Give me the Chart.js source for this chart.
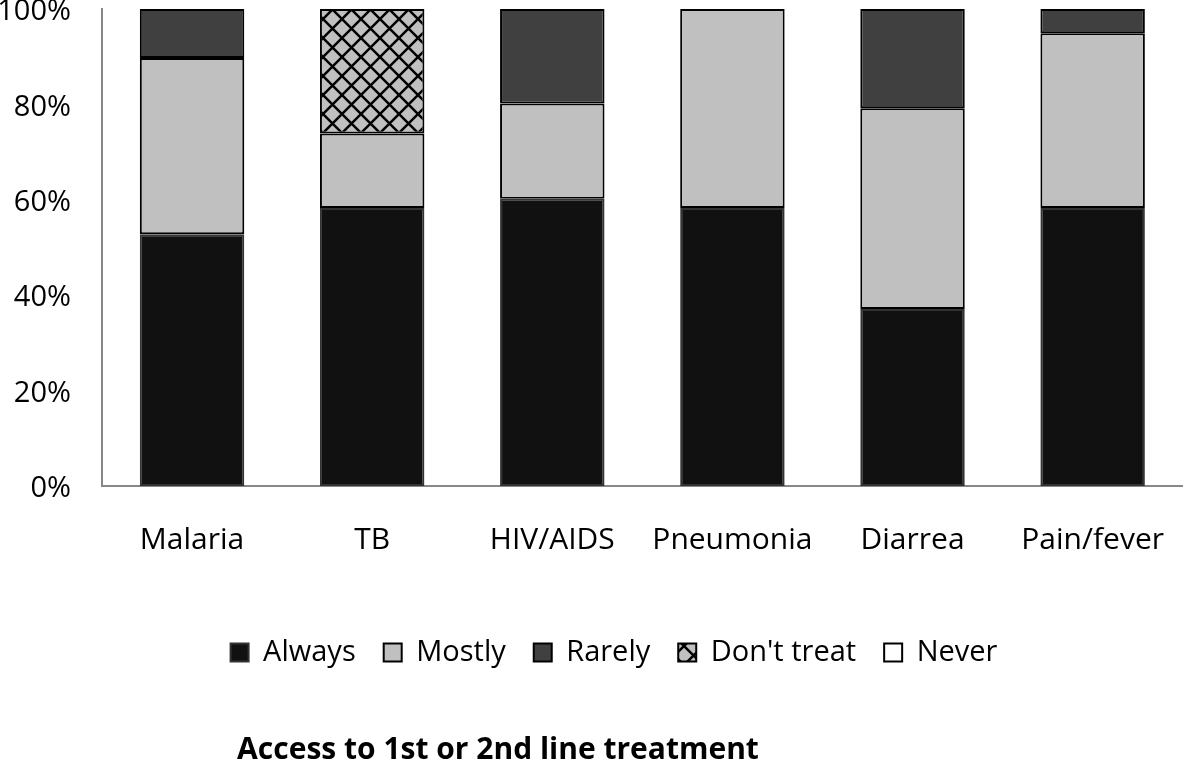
<!DOCTYPE html>
<html>
<head>
<meta charset="utf-8">
<script src="https://cdn.jsdelivr.net/npm/chart.js@4/dist/chart.umd.min.js"></script>
<style>
  html, body { margin: 0; padding: 0; background: #fff; }
  #wrap { width: 1200px; height: 760px; position: relative; }
</style>
</head>
<body>
<div id="wrap"><canvas id="myChart"></canvas></div>
<script>
const categories = ["Malaria", "TB", "HIV/AIDS", "Pneumonia", "Diarrea", "Pain/fever"];
const always = [52.8, 58.3, 60.2, 58.3, 37.1, 58.3];
const mostly = [36.9, 15.6, 20.0, 41.7, 42.1, 36.6];
const rarely = [10.3, 0, 19.8, 0, 20.8, 5.1];
const dontTreat = [0, 26.1, 0, 0, 0, 0];
const never = [0, 0, 0, 0, 0, 0];
const yTicks = [0, 20, 40, 60, 80, 100];
const chartTitle = "Access to 1st or 2nd line treatment";

const FONT = "'Open Sans', sans-serif";

// diamond lattice for "Don't treat"
const makePattern = () => {
  const s = 19;
  const c = document.createElement("canvas");
  c.width = s;
  c.height = s;
  const p = c.getContext("2d");
  p.fillStyle = "#c0c0c0";
  p.fillRect(0, 0, s, s);
  p.strokeStyle = "#000";
  p.lineWidth = 2.5;
  p.beginPath();
  p.moveTo(0, 0); p.lineTo(s, s);
  p.moveTo(s, 0); p.lineTo(0, s);
  p.stroke();
  return document.getElementById("myChart").getContext("2d").createPattern(c, "repeat");
};

const bottomTitle = {
  id: "bottomTitle",
  afterLayout(chart) {
    // legend sits a little right of centre in the original
    chart.legend.left += 14;
    chart.legend.right += 14;
  },
  afterDraw(chart) {
    const ctx = chart.ctx;
    ctx.save();
    ctx.font = "bold 30px " + FONT;
    ctx.fillStyle = "#000";
    ctx.textAlign = "center";
    ctx.textBaseline = "middle";
    ctx.fillText(chartTitle, 498, 750);
    ctx.restore();
  },
};

const ds = (label, data, color, border) => ({
  label: label,
  data: data,
  backgroundColor: color,
  borderColor: border,
  borderWidth: 2,
  borderSkipped: false,
  categoryPercentage: 1,
  barPercentage: 0.58,
});

new Chart(document.getElementById("myChart"), {
  type: "bar",
  data: {
    labels: categories,
    datasets: [
      ds("Always", always, "#111111", "#333333"),
      ds("Mostly", mostly, "#c0c0c0", "#000"),
      ds("Rarely", rarely, "#404040", "#000"),
      ds("Don't treat", dontTreat, makePattern(), "#000"),
      ds("Never", never, "#ffffff", "#000"),
    ],
  },
  options: {
    responsive: true,
    maintainAspectRatio: false,
    animation: false,
    layout: { padding: { top: 0, right: 0, left: 0, bottom: 83 } },
    plugins: {
      legend: {
        position: "bottom",
        labels: {
          color: "#000",
          font: { family: FONT, size: 29 },
          boxWidth: 18,
          boxHeight: 18,
          padding: 28,
        },
      },
      tooltip: { enabled: false },
    },
    scales: {
      x: {
        stacked: true,
        grid: { display: false, drawTicks: false },
        border: { color: "#888", width: 2 },
        ticks: { color: "#000", font: { family: FONT, size: 30 }, padding: 36, maxRotation: 0 },
        afterFit: (scale) => { scale.height = 124; },
      },
      y: {
        stacked: true,
        min: 0,
        max: 100,
        afterBuildTicks: (scale) => { scale.ticks = yTicks.map((v) => ({ value: v })); },
        grid: { display: false, drawTicks: true, tickLength: 31 },
        border: { color: "#888", width: 2 },
        ticks: {
          color: "#000",
          font: { family: FONT, size: 29, lineHeight: 0.62 },
          padding: 0,
          labelOffset: 3,
          callback: (v) => v + "%",
        },
        afterFit: (scale) => { scale.width = 102; },
      },
    },
  },
  plugins: [bottomTitle],
});
</script>
</body>
</html>
